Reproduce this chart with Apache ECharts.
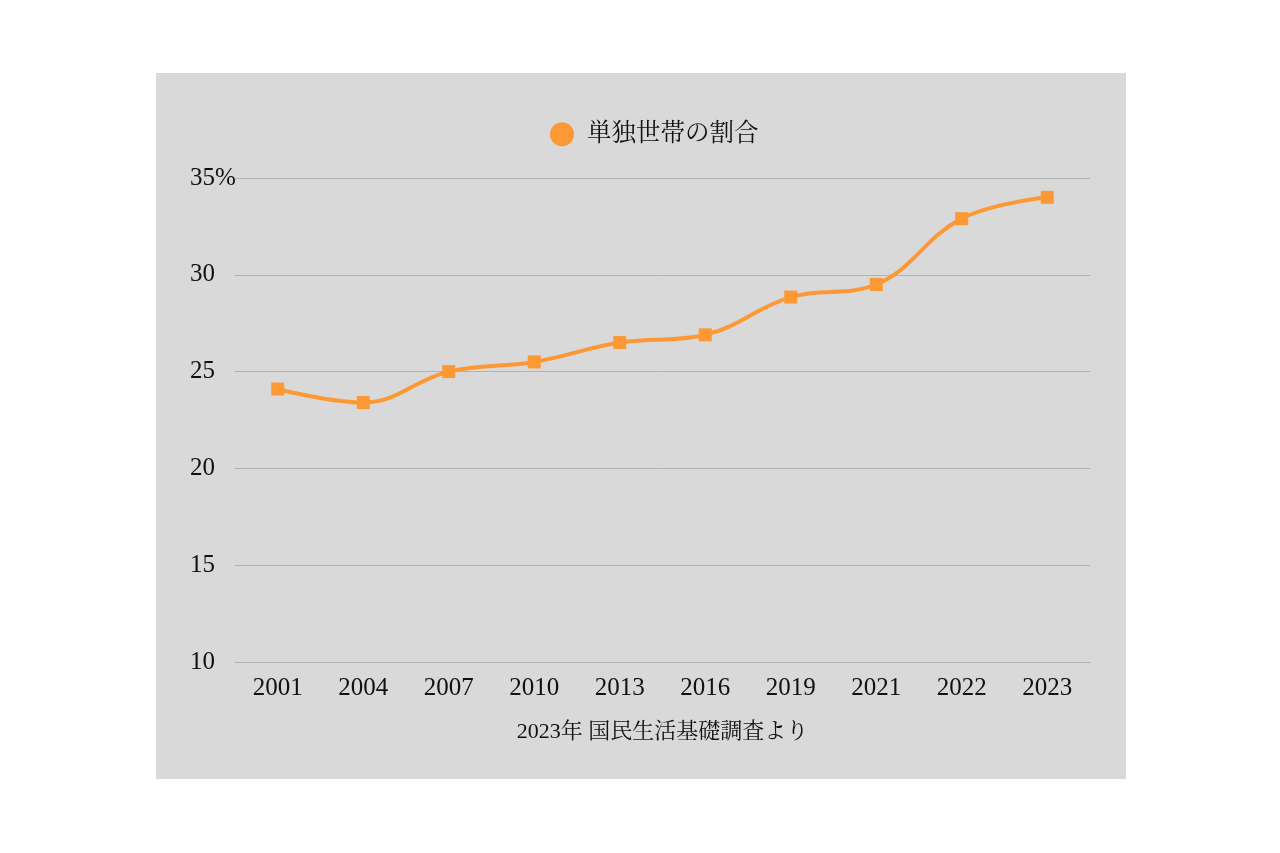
<!DOCTYPE html>
<html><head><meta charset="utf-8">
<script src="https://cdn.jsdelivr.net/npm/echarts@6/dist/echarts.min.js"></script>
<style>
html,body{margin:0;padding:0;background:#fff;width:1280px;height:853px;overflow:hidden}
#box{position:absolute;left:156px;top:73px;width:970px;height:706px;background:#d9d9d9}
#chart{width:970px;height:706px}
</style></head>
<body><div id="box"><div id="chart"></div></div>
<script>
const categories = ['2001','2004','2007','2010','2013','2016','2019','2021','2022','2023'];
const shareSingle = [24.1, 23.4, 25.0, 25.5, 26.5, 26.9, 28.85, 29.5, 32.9, 34.0];
const seriesName = '単独世帯の割合';
const sourceNote = '2023年 国民生活基礎調査より';
const FONT = '"Liberation Serif", "Noto Serif CJK JP", "Noto Sans CJK JP", serif';
const chart = echarts.init(document.getElementById('chart'), null, {renderer:'canvas'});
chart.setOption({
  backgroundColor: 'transparent',
  animation: false,
  textStyle: {fontFamily: FONT},
  legend: {
    data: [{name: seriesName, icon: 'circle'}],
    left: 389, top: 44,
    itemWidth: 24, itemHeight: 24, itemGap: 10,
    textStyle: {fontFamily: FONT, fontSize: 24.5, color: '#111', padding: [0, 0, 0, 8]}
  },
  grid: {left: 79, right: 36, top: 105, bottom: 117},
  xAxis: {
    type: 'category', data: categories, boundaryGap: true,
    axisLine: {show: true, lineStyle: {color: '#b3b3b3', width: 1}},
    axisTick: {show: false},
    axisLabel: {fontFamily: FONT, fontSize: 25, color: '#111', margin: 14},
    name: sourceNote, nameLocation: 'middle', nameGap: 59,
    nameTextStyle: {fontFamily: FONT, fontSize: 22, color: '#111'}
  },
  yAxis: {
    type: 'value', min: 10, max: 35, interval: 5,
    axisLine: {show: false}, axisTick: {show: false},
    splitLine: {lineStyle: {color: '#b3b3b3', width: 1}},
    axisLabel: {fontFamily: FONT, fontSize: 25, color: '#111', align: 'left', margin: 45,
      padding: [3, 0, 0, 0],
      formatter: v => v === 35 ? '35%' : String(v)}
  },
  series: [{
    name: seriesName, type: 'line', data: shareSingle, smooth: 0.4,
    symbol: 'rect', symbolSize: 13,
    lineStyle: {color: '#fd9935', width: 4},
    itemStyle: {color: '#fd9935'}
  }]
});
</script></body></html>
